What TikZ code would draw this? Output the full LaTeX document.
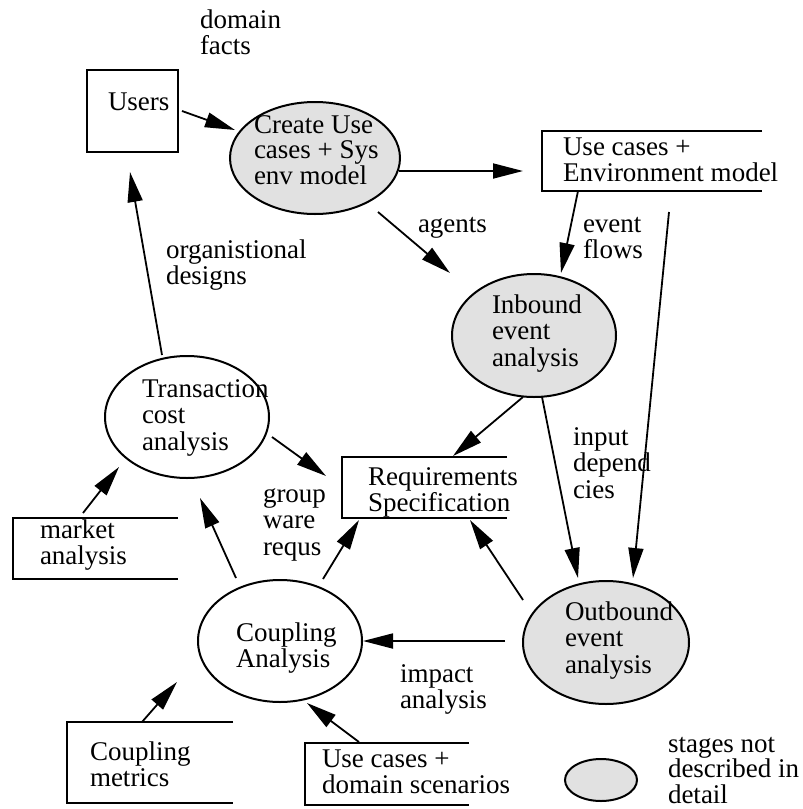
\documentclass[tikz,border=0pt]{standalone}
\usepackage{fontspec}
\setmainfont{Liberation Serif}
\usetikzlibrary{shapes.geometric,arrows.meta}

% multi-line label whose reference point is the baseline of its first line
\newcommand\txtstack[1]{\begin{tabular}[t]{@{}l@{}}#1\end{tabular}}

\definecolor{stagefill}{RGB}{225,225,225}

\tikzset{
  shapeline/.style={line width=2pt},
  stage/.style={ellipse, shapeline, draw, inner sep=0pt, outer sep=0pt},
  shaded/.style={stage, fill=stagefill},
  boxframe/.style={rectangle, inner sep=0pt, outer sep=0pt},
  txt/.style={inner sep=0pt, outer sep=0pt, anchor=base west,
              font=\fontsize{27}{26.5}\selectfont},
  arr/.style={line width=1.8pt, -{Triangle[length=30pt,width=15pt]}},
}

\begin{document}
\begin{tikzpicture}[x=1pt,y=-1pt]
\useasboundingbox (0,0) rectangle (803,809);

% ---- stages (ellipses) ----
\node[shaded, minimum width=170pt, minimum height=112pt] (create)   at (315,158)   {};
\node[shaded, minimum width=164pt, minimum height=123pt] (inbound)  at (534,335.5) {};
\node[stage,  minimum width=164pt, minimum height=122pt] (trans)    at (187,417)   {};
\node[stage,  minimum width=164pt, minimum height=122pt] (coupling) at (280,641)   {};
\node[shaded, minimum width=166pt, minimum height=123pt] (outbound) at (606,642.5) {};
\node[shaded, minimum width=72pt,  minimum height=42pt]  (legend)   at (601,780)   {};

% ---- data stores (boxes, open on the right except Users) ----
\node[boxframe, draw, shapeline, minimum width=91pt, minimum height=82pt] (users) at (132.5,111) {};
\node[boxframe, minimum width=220pt, minimum height=60pt] (ucbox)   at (652,161)   {};
\node[boxframe, minimum width=165pt, minimum height=61pt] (req)     at (424.5,487.5) {};
\node[boxframe, minimum width=165pt, minimum height=61pt] (market)  at (95.5,548.5) {};
\node[boxframe, minimum width=166pt, minimum height=81pt] (metrics) at (150,762.5) {};
\node[boxframe, minimum width=164pt, minimum height=62pt] (domain)  at (387,774)   {};
\foreach \b in {ucbox,req,market,metrics,domain}
  \draw[shapeline] (\b.north east) -- (\b.north west) -- (\b.south west) -- (\b.south east);

% ---- texts ----
\node[txt] (t-users)    at (108,110) {Users};
\node[txt, font=\fontsize{27}{25.5}\selectfont] (t-create) at (254,133) {\txtstack{Create Use\\cases + Sys\\env model}};
\node[txt] (t-ucbox)    at (563,155) {\txtstack{Use cases +\\Environment model}};
\node[txt] (t-inbound)  at (492,313) {\txtstack{Inbound\\event\\analysis}};
\node[txt] (t-trans)    at (142,397) {\txtstack{Transaction\\cost\\analysis}};
\node[txt] (t-req)      at (368,485) {\txtstack{Requirements\\Specification}};
\node[txt] (t-market)   at (40,538)  {\txtstack{market\\analysis}};
\node[txt] (t-coupling) at (236,641) {\txtstack{Coupling\\Analysis}};
\node[txt] (t-outbound) at (565,620) {\txtstack{Outbound\\event\\analysis}};
\node[txt] (t-metrics)  at (90,760)  {\txtstack{Coupling\\metrics}};
\node[txt] (t-domain)   at (322,767) {\txtstack{Use cases +\\domain scenarios}};
\node[txt, font=\fontsize{27}{24}\selectfont] (t-legend) at (668,752) {\txtstack{stages not\\described in\\detail}};

% flow labels
\node[txt] (l-facts)   at (200,28)  {\txtstack{domain\\facts}};
\node[txt] (l-agents)  at (418,232) {agents};
\node[txt] (l-flows)   at (583,232) {\txtstack{event\\flows}};
\node[txt] (l-org)     at (166,258) {\txtstack{organistional\\designs}};
\node[txt] (l-group)   at (263,502) {\txtstack{group\\ware\\requs}};
\node[txt] (l-input)   at (573,445) {\txtstack{input\\depend\\cies}};
\node[txt] (l-impact)  at (400,682) {\txtstack{impact\\analysis}};

% ---- connector end points ----
\coordinate (users-out)     at (182,111);
\coordinate (users-in)      at (130,172);
\coordinate (create-in)     at (235,130);
\coordinate (create-e)      at (399,171);
\coordinate (create-se)     at (378,212);
\coordinate (ucbox-in)      at (523,171);
\coordinate (ucbox-s)       at (578,191);
\coordinate (ucbox-far)     at (669,212);
\coordinate (inbound-nw)    at (450,273);
\coordinate (inbound-n)     at (561,273);
\coordinate (inbound-sw)    at (523,397);
\coordinate (inbound-s)     at (542,397);
\coordinate (outbound-n)    at (578,578);
\coordinate (outbound-ne)   at (633,578);
\coordinate (outbound-nw)   at (523,600);
\coordinate (outbound-w)    at (505,641);
\coordinate (req-ne)        at (453,456);
\coordinate (req-w)         at (326,476);
\coordinate (req-sw)        at (359,520);
\coordinate (req-se)        at (470,520);
\coordinate (trans-n)       at (162,355);
\coordinate (trans-e)       at (272,437);
\coordinate (trans-sw)      at (119,467);
\coordinate (trans-s)       at (200,498);
\coordinate (market-out)    at (83,513);
\coordinate (coupling-nw)   at (236,578);
\coordinate (coupling-ne)   at (323,579);
\coordinate (coupling-e)    at (363,641);
\coordinate (coupling-sw)   at (177,682);
\coordinate (coupling-s)    at (307,703);
\coordinate (metrics-out)   at (142,722);
\coordinate (domain-out)    at (359,742);

% ---- connectors ----
\draw[arr] (users-out)   -- (create-in);
\draw[arr] (create-e)    -- (ucbox-in);
\draw[arr] (create-se)   -- (inbound-nw);
\draw[arr] (ucbox-s)     -- (inbound-n);
\draw[arr] (ucbox-far)   -- (outbound-ne);
\draw[arr] (inbound-s)   -- (outbound-n);
\draw[arr] (inbound-sw)  -- (req-ne);
\draw[arr] (trans-n)     -- (users-in);
\draw[arr] (trans-e)     -- (req-w);
\draw[arr] (market-out)  -- (trans-sw);
\draw[arr] (coupling-nw) -- (trans-s);
\draw[arr] (coupling-ne) -- (req-sw);
\draw[arr] (outbound-nw) -- (req-se);
\draw[arr] (outbound-w)  -- (coupling-e);
\draw[arr] (metrics-out) -- (coupling-sw);
\draw[arr] (domain-out)  -- (coupling-s);
\end{tikzpicture}
\end{document}
